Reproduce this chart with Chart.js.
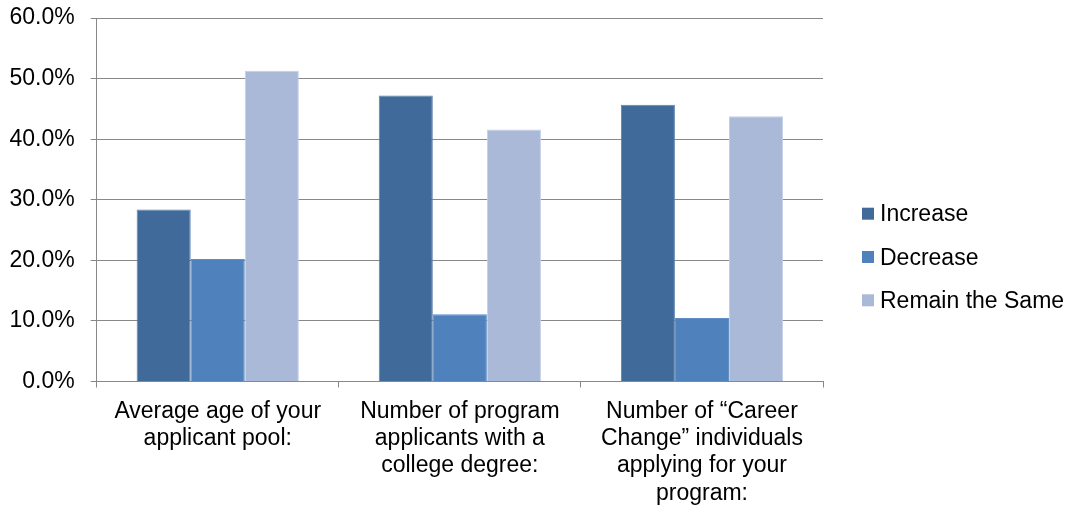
<!DOCTYPE html>
<html>
<head>
<meta charset="utf-8">
<title>Applicant pool changes</title>
<script src="https://cdn.jsdelivr.net/npm/chart.js@4.4.1/dist/chart.umd.min.js"></script>
<style>
    html, body { margin: 0; padding: 0; background: #fff; }
    #wrap { width: 1073px; height: 509px; position: relative; }
</style>
</head>
<body>
<div id="wrap"><canvas id="poolChart" width="1073" height="509"></canvas></div>
<script>
const categories = [
    ["Average age of your", "applicant pool:"],
    ["Number of program", "applicants with a", "college degree:"],
    ["Number of \u201cCareer", "Change\u201d individuals", "applying for your", "program:"]
];
const seriesNames = ["Increase", "Decrease", "Remain the Same"];
const increaseValues = [28.4, 47.2, 45.7];
const decreaseValues = [20.2, 11.1, 10.5];
const remainValues = [51.3, 41.6, 43.8];
const yMax = 60;
const yStep = 10;

const FONT = "'Liberation Sans', Arial, sans-serif";
const GRID = "#888888";

// legend drawn to the right of the plot, centred on the canvas height
const sideLegend = {
    id: "sideLegend",
    afterDraw(chart) {
        const ctx = chart.ctx;
        const left = chart.chartArea.right + 39;
        const mid = chart.height / 2 + 2.5;
        ctx.save();
        ctx.font = "23px " + FONT;
        ctx.textBaseline = "alphabetic";
        ctx.textAlign = "left";
        chart.data.datasets.forEach((ds, i) => {
            const cy = mid + (i - 1) * 43.3;
            ctx.fillStyle = ds.backgroundColor;
            ctx.fillRect(left, cy - 6, 12, 12);
            ctx.fillStyle = "#000";
            ctx.fillText(ds.label, left + 18, cy + 7.5);
        });
        ctx.restore();
    }
};

document.addEventListener("DOMContentLoaded", () => {
    const ctx = document.getElementById("poolChart").getContext("2d");

    new Chart(ctx, {
        type: "bar",
        data: {
            labels: categories,
            datasets: [
                { label: seriesNames[0], data: increaseValues, backgroundColor: "#3F6A9A", borderColor: "#5A80AE", borderWidth: 1 },
                { label: seriesNames[1], data: decreaseValues, backgroundColor: "#4F81BD", borderColor: "#5F8DC4", borderWidth: 1 },
                { label: seriesNames[2], data: remainValues, backgroundColor: "#AAB9D7", borderColor: "#C4D0E6", borderWidth: 1 }
            ]
        },
        options: {
            responsive: false,
            animation: false,
            devicePixelRatio: 1,
            layout: { padding: { top: 18, right: 250, left: 10, bottom: 0 } },
            datasets: { bar: { categoryPercentage: 0.67, barPercentage: 1.0 } },
            plugins: {
                legend: { display: false },
                tooltip: { enabled: false }
            },
            scales: {
                x: {
                    afterFit(scale) {
                        scale.height = 127.5;
                        scale.paddingLeft = 0;
                        scale.paddingRight = 0;
                    },
                    grid: { drawOnChartArea: false, drawTicks: true, tickLength: 6, color: GRID, offset: true },
                    border: { display: true, color: GRID, width: 1 },
                    ticks: {
                        autoSkip: false,
                        maxRotation: 0,
                        padding: 10,
                        color: "#000",
                        font: { family: FONT, size: 23, lineHeight: 1.19 }
                    }
                },
                y: {
                    min: 0,
                    max: yMax,
                    afterFit(scale) {
                        scale.width = 86.7;
                        scale.paddingTop = 0;
                        scale.paddingBottom = 0;
                    },
                    grid: { color: GRID, lineWidth: 1, drawTicks: true, tickLength: 6 },
                    border: { display: true, color: GRID, width: 1 },
                    ticks: {
                        stepSize: yStep,
                        padding: 16,
                        color: "#000",
                        font: { family: FONT, size: 23 },
                        callback: (v) => v.toFixed(1) + "%"
                    }
                }
            }
        },
        plugins: [sideLegend]
    });
});
</script>
</body>
</html>
